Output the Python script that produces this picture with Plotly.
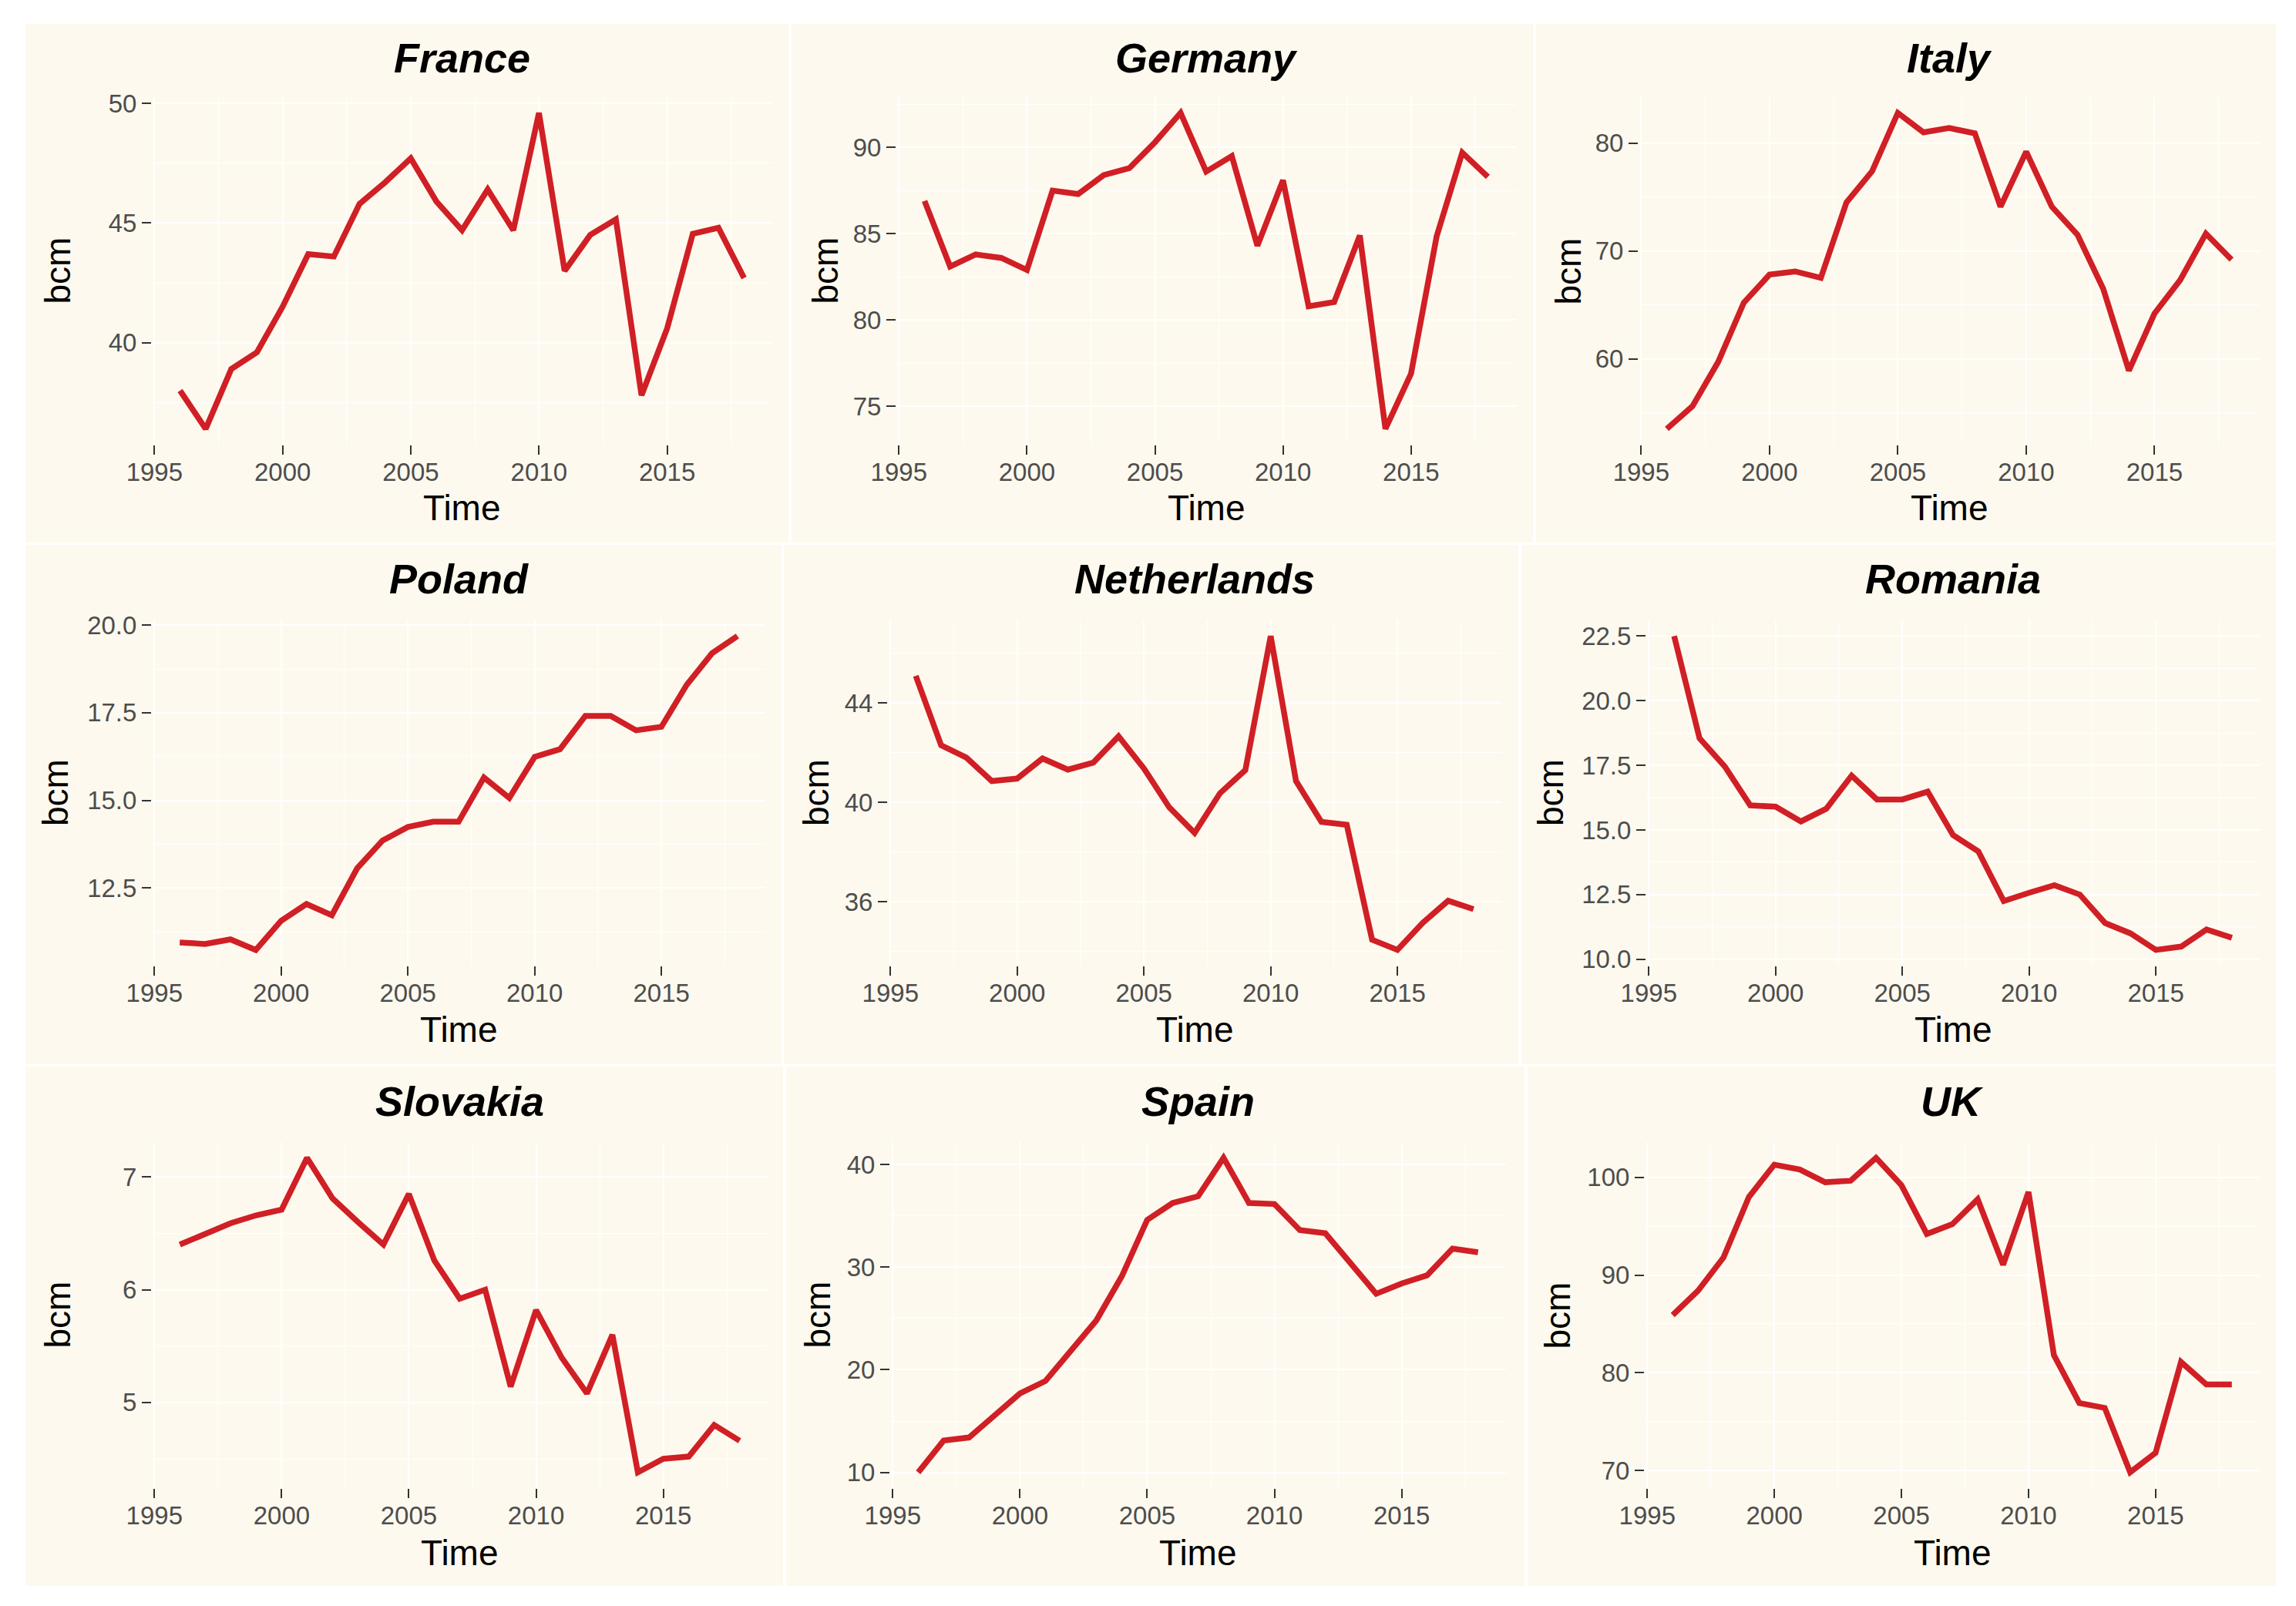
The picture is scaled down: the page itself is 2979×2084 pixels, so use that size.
import plotly.graph_objects as go

# ---------------- data ----------------
years = list(range(1996, 2019))
countries = ["France", "Germany", "Italy", "Poland", "Netherlands", "Romania",
             "Slovakia", "Spain", "UK"]

france = [38.0, 36.4, 38.9, 39.6, 41.5, 43.7, 43.6, 45.8, 46.7, 47.7, 45.9, 44.7,
          46.4, 44.7, 49.6, 43.0, 44.5, 45.15, 37.8, 40.6, 44.55, 44.8, 42.7]
germany = [86.9, 83.1, 83.8, 83.6, 82.9, 87.5, 87.3, 88.4, 88.8, 90.3, 92.0, 88.6,
           89.5, 84.3, 88.1, 80.8, 81.05, 84.9, 73.7, 76.9, 84.85, 89.7, 88.3]
italy = [53.5, 55.6, 59.7, 65.2, 67.8, 68.1, 67.5, 74.5, 77.4, 82.8, 81.0, 81.4,
         80.9, 74.1, 79.2, 74.1, 71.5, 66.5, 58.9, 64.2, 67.3, 71.6, 69.2]
poland = [10.94, 10.9, 11.03, 10.73, 11.56, 12.04, 11.72, 13.06, 13.85, 14.24, 14.39,
          14.39, 15.65, 15.07, 16.24, 16.46, 17.41, 17.41, 17.0, 17.1, 18.3, 19.2, 19.69]
netherlands = [45.1, 42.3, 41.8, 40.86, 40.96, 41.77, 41.32, 41.6, 42.66, 41.37, 39.8,
               38.77, 40.37, 41.3, 46.7, 40.86, 39.22, 39.1, 34.47, 34.06, 35.15, 36.04, 35.7]
romania = [22.5, 18.55, 17.45, 15.95, 15.9, 15.33, 15.82, 17.1, 16.18, 16.18, 16.48,
           14.8, 14.17, 12.25, 12.57, 12.86, 12.5, 11.4, 11.0, 10.36, 10.49, 11.15, 10.83]
slovakia = [6.40, 6.49, 6.59, 6.66, 6.71, 7.17, 6.81, 6.60, 6.40, 6.85, 6.26, 5.92,
            6.0, 5.14, 5.82, 5.40, 5.08, 5.60, 4.38, 4.50, 4.52, 4.80, 4.66]
spain = [10.0, 13.1, 13.4, 15.55, 17.7, 18.9, 21.9, 24.8, 29.1, 34.6, 36.25, 36.9,
         40.65, 36.25, 36.15, 33.6, 33.3, 30.4, 27.4, 28.4, 29.2, 31.8, 31.45]
uk = [85.9, 88.4, 91.8, 98.0, 101.3, 100.8, 99.5, 99.65, 102.0, 99.2, 94.2, 95.2,
      97.75, 91.05, 98.5, 81.8, 76.9, 76.4, 69.8, 71.8, 81.1, 78.8, 78.8]

series = [france, germany, italy, poland, netherlands, romania, slovakia, spain, uk]
y_dticks = [5, 5, 10, 2.5, 4, 2.5, 1, 10, 10]
y_formats = ["", "", "", ".1f", "", ".1f", "", "", ""]
x_tickvals = [1995, 2000, 2005, 2010, 2015]
x_range = [1994.9, 2019.1]

# ---------------- layout geometry (screen pixels) ----------------
W, H = 2979, 2084
OFF = 8                      # page body margin
FW, FH = W - 2 * OFF, H - 2 * OFF
plot_x = [(197, 1002), (1163, 1967), (2126, 2932),
          (197, 993), (1152, 1948), (2136, 2932),
          (197, 996), (1155, 1954), (2134, 2932)]
plot_y_rows = [(126, 577), (805, 1253), (1482, 1931)]
panel_cols_by_row = [[(33, 1023), (1027, 1989), (1993, 2953)],
                     [(33, 1014), (1017, 1970), (1974, 2953)],
                     [(33, 1016), (1020, 1978), (1982, 2953)]]
panel_rows = [(31, 704), (707, 1381), (1384, 2058)]
title_y = [75, 751, 1429]
time_y = [659, 1336, 2015]
bcm_x = [74, 1070, 2034, 72, 1059, 2012, 74, 1060, 2020]

FONT = "Liberation Sans, Arial, sans-serif"
LINE_COLOR = "#D01F25"
PANEL_BG = "#FEF9EE"


def fx(px):
    return (px - OFF) / FW


def fy(py):
    return 1 - (py - OFF) / FH


fig = go.Figure()
shapes = []
annotations = []

for r in range(3):
    for c in range(3):
        cx0, cx1 = panel_cols_by_row[r][c]
        shapes.append(dict(type="rect", xref="paper", yref="paper",
                           x0=fx(cx0), x1=fx(cx1),
                           y0=fy(panel_rows[r][1]), y1=fy(panel_rows[r][0]),
                           fillcolor=PANEL_BG, line=dict(width=0), layer="below"))

for i, (name, vals) in enumerate(zip(countries, series)):
    r, c = divmod(i, 3)
    sfx = "" if i == 0 else str(i + 1)
    fig.add_trace(go.Scatter(x=years, y=vals, mode="lines", name=name,
                             line=dict(color=LINE_COLOR, width=7.5),
                             xaxis="x" + sfx, yaxis="y" + sfx, showlegend=False))
    ymin, ymax = min(vals), max(vals)
    pad = 0.05 * (ymax - ymin)
    x0, x1 = plot_x[i]
    y0, y1 = plot_y_rows[r]
    common = dict(showgrid=True, gridcolor="white", gridwidth=2.2, zeroline=False,
                  showline=False, ticks="outside", ticklen=12, tickwidth=2.3,
                  tickcolor="#333333", automargin=False,
                  tickfont=dict(family=FONT, size=33, color="#4D4D4D"))
    fig.update_layout(**{
        "xaxis" + sfx: dict(domain=[fx(x0), fx(x1)], range=x_range,
                            anchor="y" + sfx, tickvals=x_tickvals,
                            ticklabelstandoff=-6,
                            minor=dict(dtick=2.5, tick0=1995, showgrid=True,
                                       gridcolor="white", gridwidth=1.4),
                            **common),
        "yaxis" + sfx: dict(domain=[fy(y1), fy(y0)], range=[ymin - pad, ymax + pad],
                            anchor="x" + sfx, dtick=y_dticks[i], tick0=0,
                            tickformat=y_formats[i],
                            minor=dict(dtick=y_dticks[i] / 2, tick0=0, showgrid=True,
                                       gridcolor="white", gridwidth=1.4),
                            **common),
    })
    cx = (x0 + x1) / 2
    annotations.append(dict(text="<b><i>%s</i></b>" % name, xref="paper", yref="paper",
                            x=fx(cx), y=fy(title_y[r]), xanchor="center", yanchor="middle",
                            showarrow=False, font=dict(family=FONT, size=54, color="black")))
    annotations.append(dict(text="Time", xref="paper", yref="paper",
                            x=fx(cx), y=fy(time_y[r]), xanchor="center", yanchor="middle",
                            showarrow=False, font=dict(family=FONT, size=46, color="black")))
    annotations.append(dict(text="bcm", xref="paper", yref="paper", textangle=-90,
                            x=fx(bcm_x[i]), y=fy((y0 + y1) / 2), xanchor="center",
                            yanchor="middle", showarrow=False,
                            font=dict(family=FONT, size=46, color="black")))

fig.update_layout(width=FW, height=FH, margin=dict(l=0, r=0, t=0, b=0, pad=0),
                  paper_bgcolor="white", plot_bgcolor="rgba(0,0,0,0)",
                  shapes=shapes, annotations=annotations, showlegend=False)

fig.write_html("out.html")
